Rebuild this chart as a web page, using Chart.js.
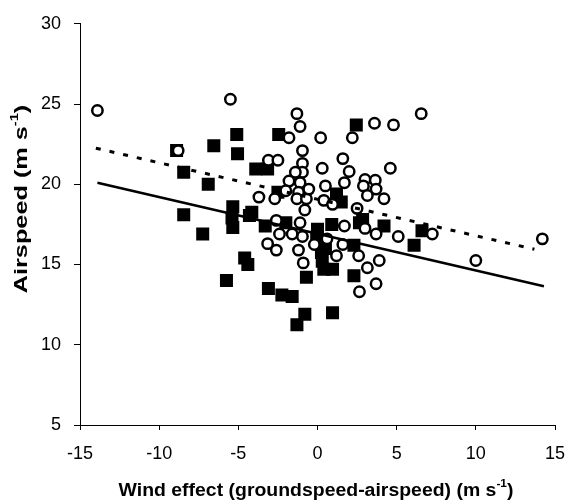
<!DOCTYPE html>
<html>
<head>
<meta charset="utf-8">
<script src="https://cdn.jsdelivr.net/npm/chart.js@4.4.0/dist/chart.umd.min.js"></script>
<style>
html, body { margin: 0; padding: 0; background: #fff; }
#contenitore { width: 565px; height: 502px; }
</style>
</head>
<body>
<div id="contenitore"><canvas id="grafico" width="565" height="502"></canvas></div>
<script>
// cerchi vuoti
var cerchiX = [-13.9, -5.5, -8.8, -1.3, -1.1, -1.8, -0.95, -3.1, -2.5, -0.95, -0.95, -1.4, -1.8, -1.1,
    -2.0, -1.2, -3.7, -2.7, -1.3, -0.7, -0.8, 6.55, 3.6, 4.8, 2.2, 0.2, 1.6, 0.3, 2.0, 4.6,
    -0.55, 0.5, 1.7, 3.0, 3.65, 2.9, 3.7, 3.15, 4.2, 0.4, 0.95, 2.5, -1.1, -0.95, -0.9, -0.2,
    0.6, 1.7, 1.6, 1.2, 3.0, 3.7, 5.1, 2.6, 3.15, 3.9, 3.7, 2.65, -2.6, -2.4, -3.15, -2.6,
    -1.6, -1.2, 10.0, 14.2, 7.25];
var cerchiY = [24.6, 25.3, 22.1, 24.4, 23.6, 22.9, 22.1, 21.5, 21.5, 21.3, 20.75, 20.75, 20.2, 20.1,
    19.6, 19.5, 19.2, 19.1, 19.1, 19.1, 18.4, 24.4, 23.8, 23.7, 22.9, 22.9, 21.6, 21.0, 20.8, 21.0,
    19.7, 19.9, 20.1, 20.3, 20.25, 19.9, 19.7, 19.3, 19.1, 19.0, 18.75, 18.5, 17.6, 16.75, 15.1, 16.25,
    16.6, 17.4, 16.25, 15.55, 17.25, 16.9, 16.75, 15.55, 14.8, 15.25, 13.8, 13.3, 17.75, 16.9, 16.3, 15.9,
    16.9, 15.9, 15.25, 16.6, 16.9];
// quadrati pieni
var quadratiX = [-8.9, -6.55, -5.1, -5.05, -8.45, -6.9, -8.45, -5.35, -5.4, -2.45, -3.9, -3.15, -2.5,
    -4.15, -7.25, -5.35, -4.3, -3.3, -2.0, -4.6, -4.4, -5.75, -3.1, -2.25, -1.6, -0.8, -1.3, -0.7,
    2.45, 1.2, 1.5, 0.9, 2.65, 4.2, 6.1, 6.6, -0.05, 0.25, 0.4, 0.95, 2.3, 2.3, 0.95, 0.0, 0.5, 0.3, 2.85];
var quadratiY = [22.1, 22.4, 23.1, 21.9, 20.75, 20.0, 18.1, 18.6, 17.9, 23.1, 20.95, 20.95, 19.5,
    18.25, 16.9, 17.3, 18.05, 17.4, 17.6, 15.4, 15.0, 14.0, 13.5, 13.1, 13.0, 11.9, 11.25, 14.2,
    23.7, 19.4, 18.9, 17.5, 17.6, 17.4, 16.2, 17.1, 16.7, 15.75, 14.7, 14.7, 14.3, 16.2, 12.0, 17.2, 16.0, 15.2, 17.8];
// rette di regressione
var rettaPienaX = [-13.9, 14.3];
var rettaPienaY = [20.1, 13.65];
var rettaTrattX = [-14.0, 13.7];
var rettaTrattY = [22.25, 15.95];

var tickX = [-15, -10, -5, 0, 5, 10, 15];
var tickY = [5, 10, 15, 20, 25, 30];

var titoloX = "Wind effect (groundspeed-airspeed) (m s";
var titoloY = "Airspeed (m s";
var apice = "-1";

function punti(xs, ys){
    var lista = [];
    for(let i = 0; i < xs.length; i++){
        lista.push({x: xs[i], y: ys[i]});
    }
    return lista;
}

var FONT = '"Liberation Sans", Arial, sans-serif';

function scriviConApice(ctx, testo, x, y, dim, allunga){
    ctx.font = 'bold ' + dim + 'px ' + FONT;
    var w1 = ctx.measureText(testo).width;
    var w3 = ctx.measureText(')').width;
    ctx.font = 'bold ' + Math.round(dim * 0.6) + 'px ' + FONT;
    var w2 = ctx.measureText(apice).width;
    var tot = (w1 + w2 + w3) * allunga;
    ctx.save();
    ctx.translate(x - tot / 2, y);
    ctx.scale(allunga, 1);
    ctx.fillStyle = '#000';
    ctx.textAlign = 'left';
    ctx.textBaseline = 'middle';
    ctx.font = 'bold ' + dim + 'px ' + FONT;
    ctx.fillText(testo, 0, 0);
    ctx.font = 'bold ' + Math.round(dim * 0.6) + 'px ' + FONT;
    ctx.fillText(apice, w1, -dim * 0.38);
    ctx.font = 'bold ' + dim + 'px ' + FONT;
    ctx.fillText(')', w1 + w2, 0);
    ctx.restore();
}

var pluginTitoli = {
    id: 'titoliAssi',
    afterDraw: function(chart){
        var ctx = chart.ctx;
        ctx.save();
        scriviConApice(ctx, titoloX, 316, 491, 18, 1.08);
        ctx.translate(22, 199);
        ctx.rotate(-Math.PI / 2);
        scriviConApice(ctx, titoloY, 0, 0, 19, 1.33);
        ctx.restore();
    }
};

var ctx = document.getElementById("grafico");
var myChart = new Chart(ctx, {
    type: 'scatter',
    data: {
        datasets: [
            {
                label: 'cerchi',
                data: punti(cerchiX, cerchiY),
                pointStyle: 'circle',
                pointRadius: 5.2,
                pointBorderWidth: 2.5,
                pointBackgroundColor: '#fff',
                pointBorderColor: '#000',
                order: 1
            },
            {
                label: 'quadrati',
                data: punti(quadratiX, quadratiY),
                pointStyle: 'rect',
                pointRadius: 9.2,
                pointBorderWidth: 0,
                pointBackgroundColor: '#000',
                pointBorderColor: '#000',
                order: 2
            },
            {
                type: 'line',
                label: 'retta piena',
                data: punti(rettaPienaX, rettaPienaY),
                borderColor: '#000',
                borderWidth: 2.6,
                pointRadius: 0,
                fill: false,
                order: 0
            },
            {
                type: 'line',
                label: 'retta tratteggiata',
                data: punti(rettaTrattX, rettaTrattY),
                borderColor: '#000',
                borderWidth: 3,
                borderDash: [5, 9],
                pointRadius: 0,
                fill: false,
                order: 0
            }
        ]
    },
    options: {
        responsive: false,
        animation: false,
        layout: { padding: { top: 22, right: 0, left: 0, bottom: 0 } },
        plugins: {
            legend: { display: false },
            tooltip: { enabled: false }
        },
        scales: {
            x: {
                type: 'linear',
                min: -15,
                max: 15,
                afterFit: function(scale){
                    scale.height = 77;
                    scale.paddingLeft = 0;
                    scale.paddingRight = 10;
                },
                afterBuildTicks: function(scale){ scale.ticks = tickX.map(v => ({value: v})); },
                ticks: { color: '#000', font: { size: 18, family: FONT }, padding: 13 },
                grid: { display: true, drawOnChartArea: false, drawTicks: true, tickLength: 5, color: '#000' },
                border: { display: true, color: '#000', width: 1 }
            },
            y: {
                type: 'linear',
                min: 5,
                max: 30,
                afterFit: function(scale){ scale.width = 80; },
                afterBuildTicks: function(scale){ scale.ticks = tickY.map(v => ({value: v})); },
                ticks: { color: '#000', font: { size: 18, family: FONT }, padding: 13 },
                grid: { display: true, drawOnChartArea: false, drawTicks: true, tickLength: 6, color: '#000' },
                border: { display: true, color: '#000', width: 1 }
            }
        }
    },
    plugins: [pluginTitoli]
});
</script>
</body>
</html>
